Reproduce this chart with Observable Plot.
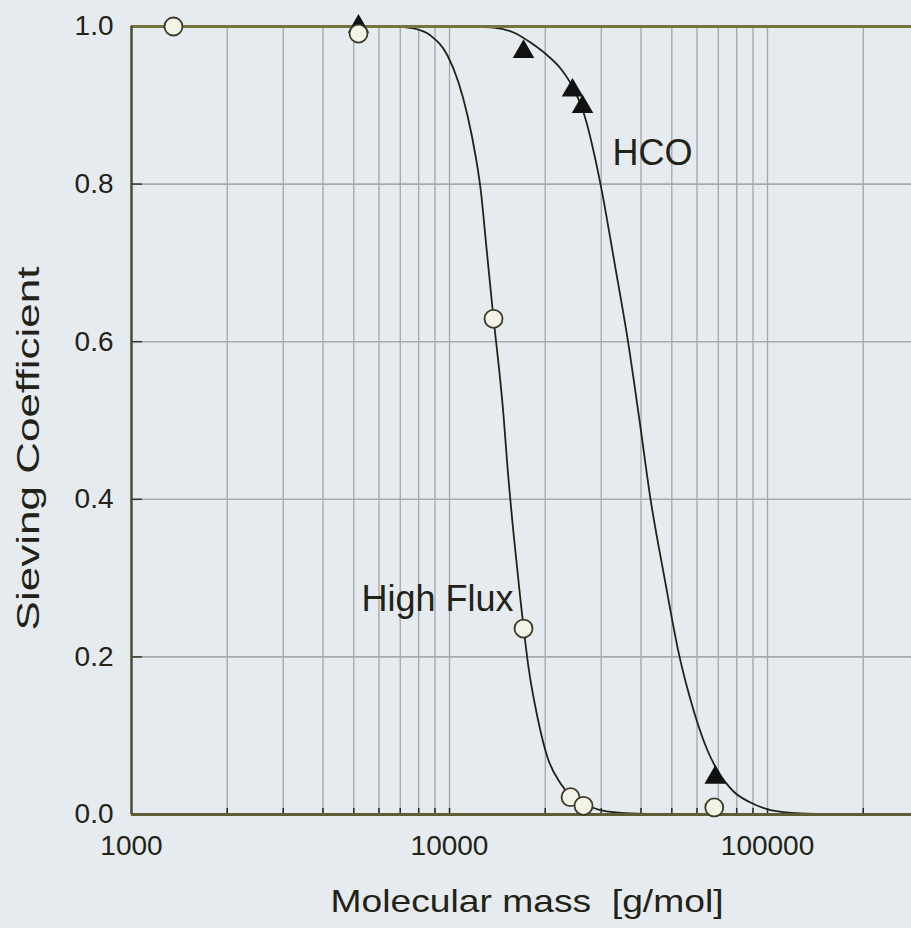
<!DOCTYPE html>
<html>
<head>
<meta charset="utf-8">
<script src="https://cdn.jsdelivr.net/npm/d3@7"></script>
<script src="https://cdn.jsdelivr.net/npm/@observablehq/plot@0.6"></script>
<style>
  html, body { margin: 0; padding: 0; background: #e6ebf0; }
  #chart { width: 911px; height: 928px; overflow: hidden; }
</style>
</head>
<body>
<div id="chart"></div>
<script>
// ---- data ----
const xGrid = [2000, 3000, 4000, 5000, 6000, 7000, 8000, 9000,
               10000, 20000, 30000, 40000, 50000, 60000, 70000, 80000, 90000,
               100000, 200000];
const xTickLabels = [1000, 10000, 100000];
const yGrid = [0.2, 0.4, 0.6, 0.8];
const yTickLabels = [0, 0.2, 0.4, 0.6, 0.8, 1.0];

const xLabel = "Molecular mass\u00a0 [g/mol]";
const yLabel = "Sieving Coefficient";

// measured points: High Flux (open circles)
const highFluxMass = [1355, 5174, 13753, 17090, 24020, 26390, 68000];
const highFluxSC   = [1.0, 0.991, 0.629, 0.236, 0.022, 0.011, 0.009];

// measured points: HCO (filled triangles)
const hcoMass = [5174, 17090, 24370, 26200, 68500];
const hcoSC   = [1.0, 0.968, 0.919, 0.898, 0.047];

// fitted curves
const highFluxFitMass = [1000, 6761, 7706, 8715, 9856, 10674, 11391, 12070, 12518, 13075, 13652,
                         14785, 15220, 15897, 16723, 17723, 18912, 20335, 22343, 24018, 26391,
                         29840, 37090, 49550];
const highFluxFitSC   = [1, 1, 0.9975, 0.9886, 0.9632, 0.9289, 0.8871, 0.8363, 0.7944, 0.7183, 0.6421,
                         0.5063, 0.4404, 0.3566, 0.2716, 0.1865, 0.1231, 0.0723, 0.0393, 0.0241, 0.0140,
                         0.0057, 0.0013, 0];

const hcoFitMass = [1000, 11650, 13753, 15897, 17975, 20335, 22343, 24546, 26391, 29840,
                    33030, 36420, 39580, 42870, 47440, 52890, 56850, 64760, 69630, 78190, 88430,
                    102200, 127000, 166000];
const hcoFitSC   = [1, 1, 0.9987, 0.9924, 0.9797, 0.9632, 0.9467, 0.9213, 0.8909, 0.8,
                    0.7, 0.6, 0.5, 0.4, 0.3, 0.2, 0.15, 0.0812, 0.0558, 0.0292, 0.0152,
                    0.0057, 0.0013, 0];

const curveNames     = ["HCO", "High Flux"];
const curveNameMass  = [32550, 15897];
const curveNameSC    = [0.839, 0.2735];

// ---- tables ----
const hfPts  = highFluxMass.map((m, i) => ({m, s: highFluxSC[i]}));
const hcoPts = hcoMass.map((m, i) => ({m, s: hcoSC[i]}));
const hfFit  = highFluxFitMass.map((m, i) => ({m, s: highFluxFitSC[i]}));
const hcoFit = hcoFitMass.map((m, i) => ({m, s: hcoFitSC[i]}));
const names  = curveNames.map((n, i) => ({n, m: curveNameMass[i], s: curveNameSC[i]}));

const ink = "#222216";

const chart = Plot.plot({
  width: 911,
  height: 928,
  marginLeft: 131,
  marginRight: 0,
  marginTop: 26,
  marginBottom: 114,
  style: {background: "#e6ebf0", fontFamily: "'Liberation Sans', Arial, sans-serif", color: ink, overflow: "visible"},
  x: {type: "log", domain: [1000, 283600]},
  y: {domain: [0, 1]},
  marks: [
    // grid
    Plot.ruleX(xGrid, {stroke: "#a0a6ab", strokeWidth: 1.3}),
    Plot.ruleY(yGrid, {stroke: "#a5aaae", strokeWidth: 1.6}),
    // small inward ticks
    Plot.ruleX(xGrid, {y1: 0, y2: 0, insetTop: -6, stroke: "#2a2a1c", strokeWidth: 1.5}),
    Plot.ruleY(yGrid, {x1: 1000, x2: 1000, insetRight: -11, stroke: "#3a3a28", strokeWidth: 1.5}),
    // fitted curves
    Plot.line(hfFit, {x: "m", y: "s", curve: "monotone-x", stroke: ink, strokeWidth: 1.8}),
    Plot.line(hcoFit, {x: "m", y: "s", curve: "monotone-x", stroke: ink, strokeWidth: 1.8}),
    // frame
    Plot.ruleY([1], {stroke: "#77733c", strokeWidth: 3}),
    Plot.ruleY([0], {stroke: "#5f5d35", strokeWidth: 3}),
    Plot.ruleX([1000], {stroke: "#4d4c33", strokeWidth: 2.5}),
    // measured points
    Plot.dot(hcoPts, {x: "m", y: "s", symbol: "triangle", r: 8, fill: "#111", stroke: "none"}),
    Plot.dot(hfPts, {x: "m", y: "s", symbol: "circle", r: 9, fill: "#f3f3e6", stroke: "#3a3a25", strokeWidth: 1.8}),
    // axes
    Plot.axisX(xTickLabels, {anchor: "bottom", tickSize: 0, tickPadding: 21, fontSize: 28,
      tickFormat: d => String(d), label: null, fill: ink}),
    Plot.axisY(yTickLabels, {anchor: "left", tickSize: 0, tickPadding: 18, fontSize: 28,
      tickFormat: d => d.toFixed(1), label: null, fill: ink}),
    // curve names
    Plot.text([names[0]], {x: "m", y: "s", text: "n", textAnchor: "start", lineAnchor: "middle", fontSize: 36, fill: ink}),
    Plot.text([names[1]], {x: "m", y: "s", text: "n", textAnchor: "end", lineAnchor: "middle", fontSize: 36, fill: ink}),
    // axis titles
    Plot.text([xLabel], {frameAnchor: "bottom", dx: 5.5, dy: 87.5, lineAnchor: "middle", fontSize: 32, fill: ink}),
    Plot.text([yLabel], {frameAnchor: "left", rotate: -90, textAnchor: "start", dx: -102.5, dy: 210, lineAnchor: "middle", fontSize: 32, fill: ink})
  ]
});

document.getElementById("chart").appendChild(chart);

// stretch the axis titles to the lengths seen in the picture
d3.select(chart).selectAll("text").each(function () {
  if (this.textContent === xLabel) {
    this.setAttribute("textLength", 393);
    this.setAttribute("lengthAdjust", "spacingAndGlyphs");
  } else if (this.textContent === yLabel) {
    this.setAttribute("textLength", 364);
    this.setAttribute("lengthAdjust", "spacingAndGlyphs");
  }
});
</script>
</body>
</html>
